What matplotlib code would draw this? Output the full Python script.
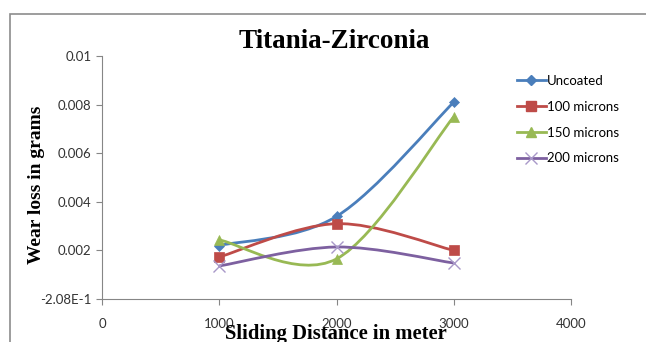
import matplotlib.pyplot as plt
from matplotlib.path import Path
from matplotlib.patches import PathPatch, Rectangle
from matplotlib.lines import Line2D

distance = [1000, 2000, 3000]
uncoated = [0.0022, 0.0034, 0.0081]
microns_100 = [0.00173, 0.0031, 0.0020]
microns_150 = [0.00243, 0.00165, 0.0075]
microns_200 = [0.00136, 0.00214, 0.00148]

series = [
    ("Uncoated", uncoated, "#4A7EBB", "D", 5),
    ("100 microns", microns_100, "#BE4B48", "s", 7),
    ("150 microns", microns_150, "#98B954", "^", 7),
    ("200 microns", microns_200, "#7D60A0", "x", 8),
]

y_ticks = [0, 0.002, 0.004, 0.006, 0.008, 0.01]
y_tick_labels = ["-2.08E-1", "0.002", "0.004", "0.006", "0.008", "0.01"]
x_ticks = [0, 1000, 2000, 3000, 4000]


def smooth_path(xs, ys):
    # Excel-style smoothed line: Catmull-Rom segments as cubic Bezier
    pts = list(zip(xs, ys))
    n = len(pts)
    verts = [pts[0]]
    codes = [Path.MOVETO]
    for i in range(n - 1):
        p0 = pts[max(i - 1, 0)]
        p1 = pts[i]
        p2 = pts[i + 1]
        p3 = pts[min(i + 2, n - 1)]
        c1 = (p1[0] + (p2[0] - p0[0]) / 6, p1[1] + (p2[1] - p0[1]) / 6)
        c2 = (p2[0] - (p3[0] - p1[0]) / 6, p2[1] - (p3[1] - p1[1]) / 6)
        verts += [c1, c2, p2]
        codes += [Path.CURVE4] * 3
    return Path(verts, codes)


fig = plt.figure(figsize=(6.46, 3.42), dpi=100)
ax = fig.add_axes([102 / 646, 43 / 342, 469 / 646, 243 / 342])

# outer chart frame (cropped on right/bottom)
fig.patches.append(Rectangle((10 / 646, -0.2), 1.2, (342 - 14) / 342 + 0.2,
                             transform=fig.transFigure, fill=False,
                             edgecolor="#8c8c8c", linewidth=1.2))

handles = []
for label, vals, color, marker, ms in series:
    ax.add_patch(PathPatch(smooth_path(distance, vals), fill=False,
                           edgecolor=color, linewidth=2.0, zorder=2))
    mcolor = "#A898C8" if marker == "x" else color
    ax.plot(distance, vals, linestyle="none", marker=marker, markersize=ms,
            color=mcolor, markeredgewidth=1.0 if marker == "x" else 0.5, zorder=3)
    handles.append(Line2D([], [], color=color, linewidth=2.0, marker=marker,
                          markersize=ms, markerfacecolor=mcolor,
                          markeredgecolor=mcolor))

ax.set_xlim(0, 4000)
ax.set_ylim(0, 0.01)
ax.set_xticks(x_ticks)
ax.set_yticks(y_ticks)
ax.set_yticklabels(y_tick_labels)

for s in ["top", "right"]:
    ax.spines[s].set_visible(False)
for s in ["left", "bottom"]:
    ax.spines[s].set_color("#868686")
ax.tick_params(colors="#868686", length=4, labelcolor="#333333",
               labelsize=9.5)
ax.tick_params(axis="x", pad=10)
for t in ax.get_xticklabels() + ax.get_yticklabels():
    t.set_fontfamily("Lato")

fig.text(0.518, 0.88, "Titania-Zirconia", ha="center", va="center",
         fontsize=19.5, fontweight="bold", family="Liberation Serif")
fig.text(0.056, 0.46, "Wear loss in grams", ha="center", va="center",
         rotation=90, fontsize=14, fontweight="bold", family="Liberation Serif")
fig.text(0.52, 0.008, "Sliding Distance in meter", ha="center", va="baseline",
         fontsize=14.9, fontweight="bold", family="Liberation Serif")

fig.legend(handles, [s[0] for s in series], loc="upper left",
           bbox_to_anchor=(505 / 646, (342 - 63) / 342), frameon=False,
           prop={"family": "Lato", "size": 9.5}, labelspacing=1.05,
           handlelength=2.2, handletextpad=0.1)

fig.savefig("out.png", dpi=100)
